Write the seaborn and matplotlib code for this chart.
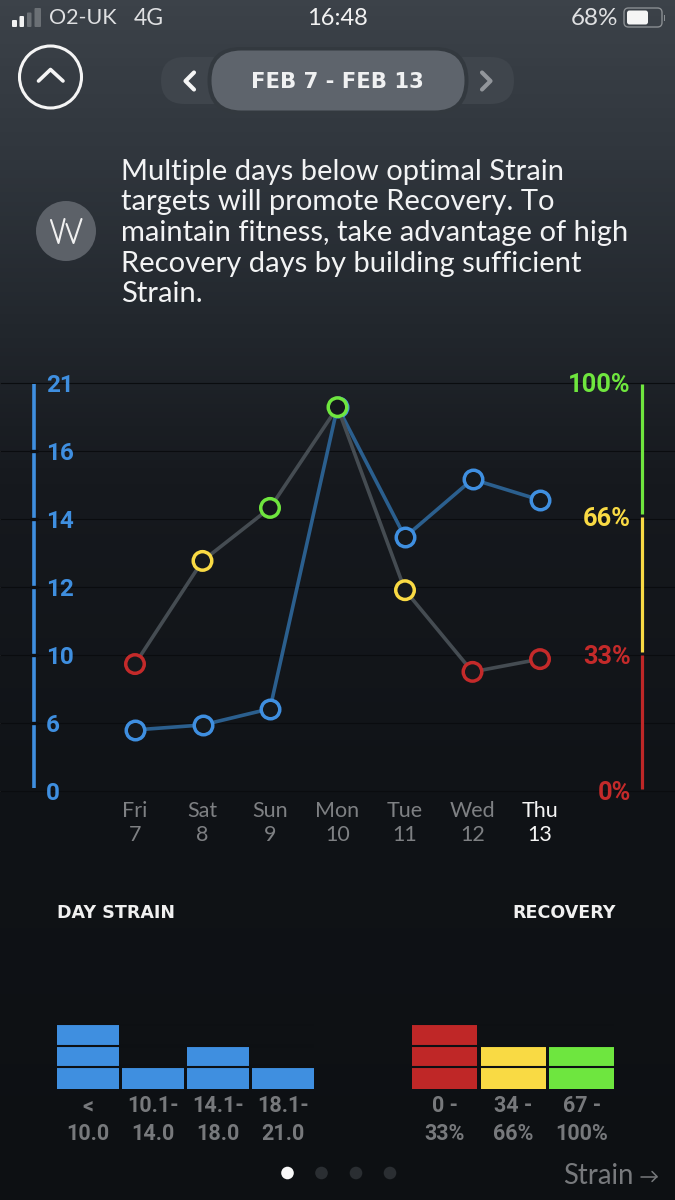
import numpy as np
import matplotlib
matplotlib.use("Agg")
import matplotlib.pyplot as plt
from matplotlib.patches import Circle, FancyBboxPatch, Rectangle
from matplotlib.colors import LinearSegmentedColormap
from matplotlib.transforms import blended_transform_factory
import seaborn as sns

# ---------- data ----------
days = ["Fri\n7", "Sat\n8", "Sun\n9", "Mon\n10", "Tue\n11", "Wed\n12", "Thu\n13"]
day_index = [0, 1, 2, 3, 4, 5, 6]
strain_values = [5.36, 5.8, 6.82, 19.24, 13.46, 15.16, 14.55]
recovery_values = [30.8, 55.5, 68.3, 93.8, 48.5, 28.9, 32.0]
strain_ticks = [0, 6, 10, 12, 14, 16, 21]
recovery_ticks = [0, 33, 66, 100]
recovery_tick_labels = ["0%", "33%", "66%", "100%"]
strain_bins = ["<\n10.0", "10.1-\n14.0", "14.1-\n18.0", "18.1-\n21.0"]
strain_counts = [3, 1, 2, 1]
recovery_bins = ["0 -\n33%", "34 -\n66%", "67 -\n100%"]
recovery_counts = [3, 2, 2]

BLUE, RED, YELLOW, GREEN = "#3f8fe0", "#c42a2a", "#f9da44", "#6fe63e"
BARRED, BARGREEN = "#bf2727", "#6ee63f"
NARROW = ["Roboto", "DejaVu Sans"]
BODY = ["Lato", "DejaVu Sans"]
HEAD = ["DejaVu Sans"]
GREY = "#77797c"

sns.set_style("dark")
plt.rcParams["font.family"] = BODY
fig = plt.figure(figsize=(6.75, 12), dpi=100)
W, H = 675.0, 1200.0


def px_axes(l, t, r, b, **kw):
    return fig.add_axes([l / W, 1 - b / H, (r - l) / W, (b - t) / H], **kw)


# ---------- background and app chrome (pixel space) ----------
bg = px_axes(0, 0, W, H)
stops = [(0.0, "#3c4249"), (0.13, "#30363d"), (0.27, "#22272d"), (0.40, "#16191e"),
         (0.66, "#101317"), (1.0, "#0d1013")]
cmap = LinearSegmentedColormap.from_list("bg", stops)
bg.imshow(np.linspace(0, 1, 600)[:, None], cmap=cmap, aspect="auto", extent=(0, W, H, 0), zorder=0)
bg.set_xlim(0, W)
bg.set_ylim(H, 0)
bg.axis("off")


def T(x, y, s, **kw):
    kw.setdefault("color", "#e9eaeb")
    kw.setdefault("va", "center")
    kw.setdefault("zorder", 5)
    return bg.text(x, y, s, **kw)


def pill(l, t, r, b, color, z=2):
    bg.add_patch(FancyBboxPatch((l, t), r - l, b - t, boxstyle=f"round,pad=0,rounding_size={(b - t) / 2}",
                                fc=color, ec="none", zorder=z))


# status bar
for (l, r, t, c) in [(12, 17, 20, "#f2f2f2"), (19.5, 24, 16, "#f2f2f2"), (27, 31.5, 12.5, "#6b7075"), (34.5, 41, 8, "#6b7075")]:
    bg.add_patch(FancyBboxPatch((l, t), r - l, 27 - t, boxstyle="round,pad=0,rounding_size=1", fc=c, ec="none", zorder=3))
T(49, 18.5, "O2-UK", fontsize=15.5, color="#dfe0e2")
T(134, 18.5, "4G", fontsize=16.5, color="#dfe0e2")
T(337.5, 18.5, "16:48", fontsize=17, ha="center", color="#f2f2f2")
T(618, 18.5, "68%", fontsize=17.5, ha="right", color="#dfe0e2")
bg.add_patch(FancyBboxPatch((624, 8), 38, 19, boxstyle="round,pad=0,rounding_size=4.5", fc="none", ec="#8a8e92", lw=1, zorder=3))
bg.add_patch(FancyBboxPatch((627, 10.5), 21, 14, boxstyle="round,pad=0,rounding_size=2.5", fc="#f5f5f5", ec="none", zorder=3))
bg.add_patch(Rectangle((663.5, 14.5), 1.5, 6, fc="#8a8e92", ec="none", zorder=3))

# header controls
bg.add_patch(Circle((50.5, 77), 31, fc="none", ec="#f5f5f5", lw=2.2, zorder=3))
bg.plot([38.5, 50.5, 63], [81, 69.5, 81], color="#f5f5f5", lw=2.6, zorder=3, solid_capstyle="round")
pill(161, 57, 514, 104, "#3f454c")
pill(207.5, 47, 468.5, 114, "#33393f", z=2)
pill(211.5, 50.5, 464.5, 110.5, "#5e646c", z=3)
T(337, 81.5, "FEB 7 - FEB 13", fontsize=15.2, ha="center", weight="bold", color="#f0f1f2", family=HEAD)
bg.plot([194, 185.5, 194], [72.5, 81, 89.5], color="#f5f5f5", lw=3, zorder=4)
bg.plot([482, 490.5, 482], [72.5, 81, 89.5], color="#92969b", lw=3, zorder=4)

# advice
bg.add_patch(Circle((66, 231), 30, fc="#5c6168", ec="none", zorder=3))
bg.plot([51, 58.5, 64.5], [220, 243, 219], color="#f0f0f0", lw=1.5, zorder=4)
bg.plot([66.5, 73.5, 81.5], [224, 243, 219], color="#f0f0f0", lw=1.5, zorder=4)
T(121, 233, "Multiple days below optimal Strain\ntargets will promote Recovery. To\nmaintain fitness, take advantage of high\nRecovery days by building sufficient\nStrain.",
  fontsize=21, color="#f2f3f4", linespacing=1.215, ha="left")

# pager + next
for x, c in zip([287.5, 321.5, 356, 390], ["#f8f8f8", "#2a2e32", "#2a2e32", "#2a2e32"]):
    bg.add_patch(Circle((x, 1173), 6.3, fc=c, ec="none", zorder=3))
T(563, 1176, "Strain", fontsize=19.8, color=GREY)
bg.plot([641, 657], [1176.5, 1176.5], color=GREY, lw=1.1, zorder=4)
bg.plot([652, 657, 652], [1171.5, 1176.5, 1181.5], color=GREY, lw=1.1, zorder=4)

# ---------- main chart ----------
ax = px_axes(0, 382.7, W, 790.7)
ax.patch.set_visible(False)
ax.set_axisbelow(False)
ax.set_xlim(-2, 8)
ax.set_yscale("function", functions=(
    lambda v: np.interp(v, strain_ticks, np.arange(7) / 6),
    lambda f: np.interp(f, np.arange(7) / 6, strain_ticks)))
ax.set_ylim(0, 21)
for s in ax.spines.values():
    s.set_visible(False)
ax.grid(False)
ax.hlines(strain_ticks, -2, 8, color="#0a0c0f", lw=0.8, zorder=1, clip_on=False)

sns.lineplot(x=day_index, y=strain_values, ax=ax, color="#2b5f8e", lw=2.6, legend=False, errorbar=None, zorder=3)
sns.scatterplot(x=day_index, y=strain_values, ax=ax, color=BLUE, s=178, linewidth=2.5, legend=False, zorder=4)
col = ax.collections[-1]
col.set_edgecolor(BLUE)
col.set_facecolor("#14181c")
ax.set_xticks(day_index, days)
ax.set_xlabel("")
ax.set_ylabel("")
ax.set_yticks(strain_ticks, [str(t) for t in strain_ticks])
ax.yaxis.set_minor_locator(matplotlib.ticker.NullLocator())
ax.tick_params(axis="y", left=False, pad=-36.4, labelcolor=BLUE, labelsize=17.5)
for lab in ax.get_yticklabels():
    lab.set_ha("left")
    lab.set_family(NARROW)
    lab.set_weight("bold")
    lab.set_clip_on(False)
ax.tick_params(axis="x", bottom=False, pad=4, labelsize=15.5, labelcolor="#7e8083")
for lab in ax.get_xticklabels():
    lab.set_linespacing(1.25)
ax.get_xticklabels()[-1].set_color("#f5f5f5")

tr = blended_transform_factory(ax.transAxes, ax.transData)
ax.vlines([33.7 / W], 0.2, 20.9, transform=tr, color=BLUE, lw=2.6, zorder=2)
ax.hlines(strain_ticks[1:-1], 30 / W, 38 / W, transform=tr, color="#0d0f12", lw=2.4, zorder=2.5)

# recovery on twin axis
rx = ax.twinx()
rx.patch.set_visible(False)
rx.set_axisbelow(False)
rx.set_yscale("function", functions=(
    lambda v: np.interp(v, recovery_ticks, [0, 135.7 / 408, 273.7 / 408, 1]),
    lambda f: np.interp(f, [0, 135.7 / 408, 273.7 / 408, 1], recovery_ticks)))
rx.set_ylim(0, 100)
rx.grid(False)
for s in rx.spines.values():
    s.set_visible(False)
zones = ["r" if v <= 33 else ("y" if v <= 66 else "g") for v in recovery_values]
zone_colors = {"r": RED, "y": YELLOW, "g": GREEN}
sns.lineplot(x=day_index, y=recovery_values, ax=rx, color="#454c52", lw=2.6, legend=False, errorbar=None, zorder=3)
sns.scatterplot(x=day_index, y=recovery_values, hue=zones, palette=zone_colors, ax=rx, s=178, linewidth=2.5, legend=False, zorder=4)
col = rx.collections[-1]
col.set_edgecolors([zone_colors[z] for z in zones])
col.set_facecolor("#14181c")
rx.set_xlim(-2, 8)
rx.set_xlabel("")
rx.set_ylabel("")
rx.set_yticks(recovery_ticks, recovery_tick_labels)
rx.yaxis.set_minor_locator(matplotlib.ticker.NullLocator())
rx.tick_params(axis="y", right=False, labelright=True, pad=-35.2, labelsize=18.3)
for lab, c in zip(rx.get_yticklabels(), [RED, RED, YELLOW, GREEN]):
    lab.set_ha("right")
    lab.set_color(c)
    lab.set_family(NARROW)
    lab.set_weight("bold")
tr2 = blended_transform_factory(rx.transAxes, rx.transData)
x_bar = 641.7 / W
rx.vlines(x_bar, 0.4, 33, transform=tr2, color=BARRED, lw=2.3, zorder=2)
rx.vlines(x_bar, 33.6, 66, transform=tr2, color=YELLOW, lw=2.3, zorder=2)
rx.vlines(x_bar, 66.8, 99.6, transform=tr2, color=GREEN, lw=2.3, zorder=2)


# ---------- histograms ----------
def histo(box, labels, counts, colors, xlim, width, title, loc, tx):
    a = px_axes(*box)
    a.patch.set_visible(False)
    sns.barplot(x=labels, y=counts, hue=labels, palette=colors, ax=a, width=width, legend=False,
                saturation=1, zorder=2, linewidth=0, edgecolor="none")
    a.set_xlim(*xlim)
    a.set_ylim(0, 3)
    a.grid(False)
    for s in a.spines.values():
        s.set_visible(False)
    a.hlines([1, 2, 3], *xlim, color="#0d1013", lw=1.5, zorder=3)
    a.set_yticks([])
    a.set_xlabel("")
    a.set_ylabel("")
    a.tick_params(axis="x", bottom=False, pad=1.5, labelsize=15.5, labelcolor=GREY)
    for lab in a.get_xticklabels():
        lab.set_family(NARROW)
        lab.set_weight("bold")
        lab.set_linespacing(1.33)
    a.set_title(title, loc=loc, x=tx, pad=76, fontsize=12.6, weight="bold", color="#f0f0f0", family=HEAD)
    return a


histo((57.3, 1024, 313.8, 1088.5), strain_bins, strain_counts, [BLUE] * 4, (-0.473, 3.473), 0.946, "DAY STRAIN", "left", 0)
histo((412, 1024, 614.5, 1088.5), recovery_bins, recovery_counts, [BARRED, YELLOW, BARGREEN], (-0.477, 2.477), 0.954, "RECOVERY", "right", 1.008)

fig.savefig("out.png", dpi=100)
